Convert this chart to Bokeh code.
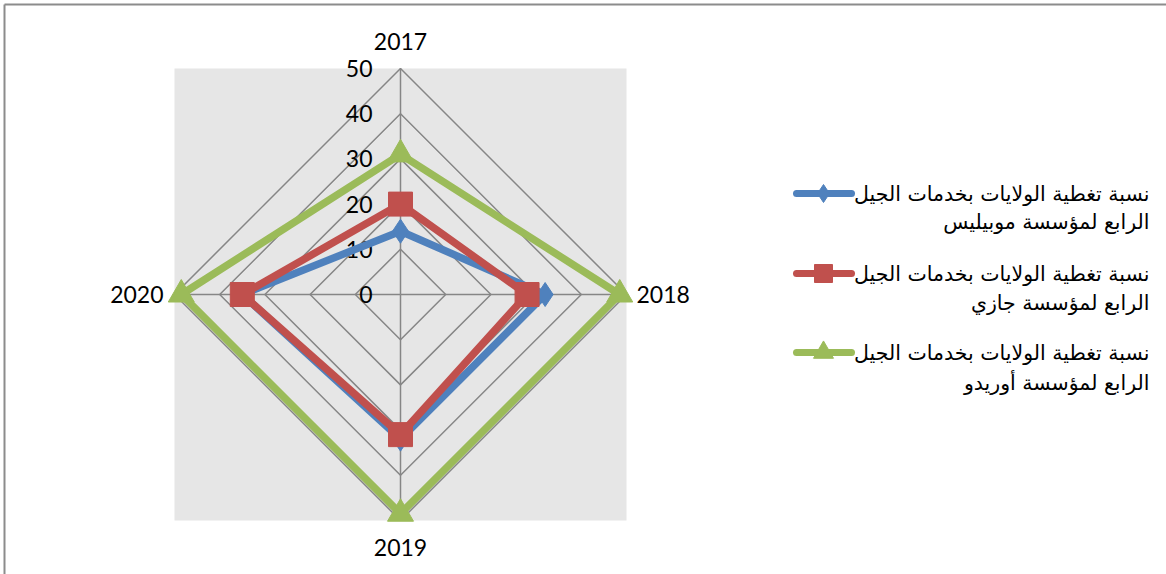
import math
from bokeh.plotting import figure
from bokeh.models import Range1d
from bokeh.core.properties import value
from bokeh.embed import file_html
from bokeh.resources import INLINE

# ---- data ----
years = ["2017", "2018", "2019", "2020"]
mobilis = [14, 32, 32, 35]
djezzy = [20, 28, 31, 35]
ooredoo = [31, 48.5, 48.5, 48.5]
ticks = [0, 10, 20, 30, 40, 50]
line1 = "نسبة تغطية الولايات بخدمات الجيل"
line2 = ["الرابع لمؤسسة موبيليس", "الرابع لمؤسسة جازي", "الرابع لمؤسسة أوريدو"]
colors = ["#4F81BD", "#C0504D", "#9BBB59"]
markers = ["diamond", "square", "triangle"]
msizes = [24, 24, 26]
lmsizes = [18, 18, 20]

W, H = 1166, 574
CX, CY = 400, 294          # pixel centre of the radar
PPU = 226 / 50.0           # pixels per value unit

def px(x):   # pixel x -> data x
    return (x - CX) / PPU

def py(y):   # pixel y -> data y
    return (CY - y) / PPU

p = figure(width=W, height=H, output_backend="svg", toolbar_location=None,
           x_range=Range1d(px(0), px(W)), y_range=Range1d(py(H), py(0)),
           min_border=0, outline_line_color=None)
p.axis.visible = False
p.grid.visible = False
p.background_fill_color = "white"
p.border_fill_color = "white"

# outer frame (top & left edges visible)
p.line([px(4), px(W)], [py(4), py(4)], line_color="#8c8c8c", line_width=2)
p.line([px(4), px(4)], [py(4), py(H)], line_color="#8c8c8c", line_width=2)

# plot-area background
rmax = ticks[-1]
p.quad(left=[-rmax], right=[rmax], bottom=[-rmax], top=[rmax],
       fill_color="#E6E6E6", line_color=None)

n = len(years)
ang = [math.pi / 2 - 2 * math.pi * i / n for i in range(n)]

def pts(vals):
    xs = [v * math.cos(a) for v, a in zip(vals, ang)]
    ys = [v * math.sin(a) for v, a in zip(vals, ang)]
    return xs, ys

# grid rings
for t in ticks[1:]:
    xs, ys = pts([t] * n)
    p.line(xs + xs[:1], ys + ys[:1], line_color="#868686", line_width=1.5)
# spokes
for a in ang:
    p.line([0, rmax * math.cos(a)], [0, rmax * math.sin(a)],
           line_color="#868686", line_width=1.5)

# tick labels
p.text(x=[px(372)] * len(ticks), y=ticks, text=[str(t) for t in ticks],
       text_align="right", text_baseline="middle",
       text_font=value("Lato"), text_font_size="23px", text_color="#000000")

# category labels
p.text(x=[0], y=[py(41)], text=[years[0]], text_align="center", text_baseline="middle",
       text_font=value("Lato"), text_font_size="23px", text_color="#000000")
p.text(x=[px(636)], y=[0], text=[years[1]], text_align="left", text_baseline="middle",
       text_font=value("Lato"), text_font_size="23px", text_color="#000000")
p.text(x=[0], y=[py(547)], text=[years[2]], text_align="center", text_baseline="middle",
       text_font=value("Lato"), text_font_size="23px", text_color="#000000")
p.text(x=[px(163)], y=[0], text=[years[3]], text_align="right", text_baseline="middle",
       text_font=value("Lato"), text_font_size="23px", text_color="#000000")

# series
for vals, c, m, s in zip([mobilis, djezzy, ooredoo], colors, markers, msizes):
    xs, ys = pts(vals)
    p.line(xs + xs[:1], ys + ys[:1], line_color=c, line_width=7.5, line_join="miter")
    p.scatter(xs, ys, marker=m, size=s, fill_color=c, line_color=c)

# legend
leg_line_y = [193, 273, 352]
leg_text_y = [(193, 221), (273, 302), (352, 382)]
for i in range(3):
    yl = py(leg_line_y[i])
    p.line([px(796), px(851)], [yl, yl], line_color=colors[i], line_width=7, line_cap="round")
    p.scatter([px(823)], [yl], marker=markers[i], size=lmsizes[i],
              fill_color=colors[i], line_color=colors[i])
    p.text(x=[px(1149)], y=[py(leg_text_y[i][0])], text=[line1], text_align="right",
           text_baseline="middle", text_font=value("DejaVu Sans"), text_font_size="20.5px",
           text_color="#000000")
    p.text(x=[px(1149)], y=[py(leg_text_y[i][1])], text=[line2[i]], text_align="right",
           text_baseline="middle", text_font=value("DejaVu Sans"), text_font_size="20.5px",
           text_color="#000000")

open("out.html", "w").write(file_html(p, INLINE))
